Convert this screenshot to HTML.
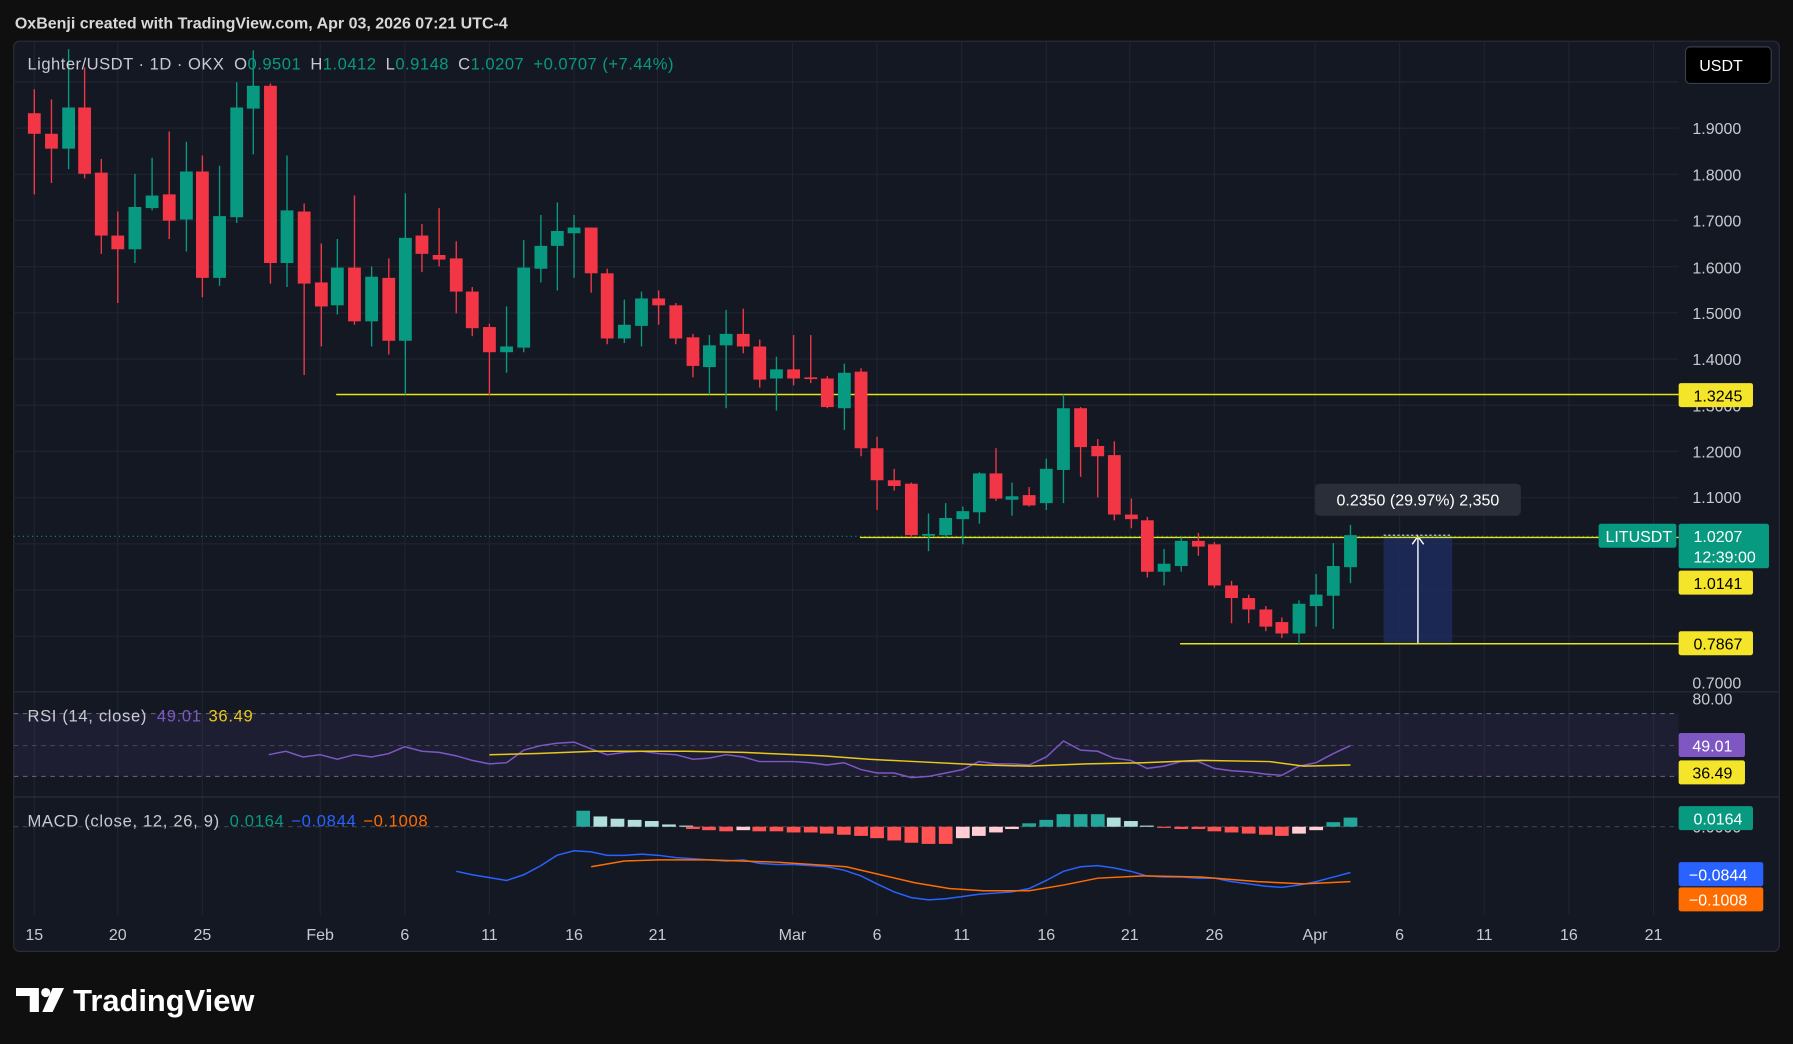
<!DOCTYPE html>
<html><head><meta charset="utf-8"><style>
html,body{margin:0;padding:0;background:#0f0f0f;width:1793px;height:1044px;overflow:hidden}
svg{display:block}
text{font-family:"Liberation Sans",sans-serif}
</style></head><body>
<svg id="s" width="1793" height="1044" viewBox="0 0 1568 913" preserveAspectRatio="none" xmlns="http://www.w3.org/2000/svg">
<rect width="1568" height="913" fill="#0f0f0f"/>
<text x="13" y="25" fill="#d8d8d8" font-size="14" font-weight="bold">OxBenji created with TradingView.com, Apr 03, 2026 07:21 UTC-4</text>
<rect x="12" y="36" width="1544" height="796" rx="5" fill="#141823" stroke="#2a2e39"/>
<g id="grid" stroke="#1f2431" stroke-width="1"></g>
<line x1="12" y1="605" x2="1556" y2="605" stroke="#2a2e39"/>
<line x1="12" y1="697" x2="1556" y2="697" stroke="#2a2e39"/>
<rect x="12" y="624" width="1456" height="55" fill="#7e57c2" opacity="0.1"/>
<line x1="12" y1="624" x2="1468" y2="624" stroke="#5d606b" stroke-dasharray="4,4"/>
<line x1="12" y1="652" x2="1468" y2="652" stroke="#5d606b" stroke-dasharray="4,4" opacity="0.6"/>
<line x1="12" y1="679" x2="1468" y2="679" stroke="#5d606b" stroke-dasharray="4,4"/>
<line x1="12" y1="723" x2="1468" y2="723" stroke="#5d606b" stroke-dasharray="4,4" opacity="0.6"/>
<rect x="1210" y="468" width="60" height="95" fill="#1c2c5c" opacity="0.85"/>
<line x1="1210" y1="468" x2="1270" y2="468" stroke="#ddd" stroke-dasharray="2,2"/>
<line x1="1210" y1="563" x2="1270" y2="563" stroke="#ddd"/>
<line x1="1240" y1="563" x2="1240" y2="470" stroke="#fff" stroke-width="1.2"/>
<path d="M1235 476 L1240 469 L1245 476" stroke="#fff" fill="none" stroke-width="1.2"/>
<rect x="1150" y="423" width="180" height="28" rx="4" fill="#2a2e39"/>
<text x="1240" y="442" fill="#fff" font-size="14" text-anchor="middle">0.2350 (29.97%) 2,350</text>
<line x1="12" y1="469" x2="1468" y2="469" stroke="#089981" stroke-dasharray="1,3"/>
<line x1="294" y1="345" x2="1468" y2="345" stroke="#e8e21b" stroke-width="1.3"/>
<line x1="752" y1="470" x2="1468" y2="470" stroke="#e8e21b" stroke-width="1.3"/>
<line x1="1032" y1="563" x2="1468" y2="563" stroke="#e8e21b" stroke-width="1.3"/>
<g id="candles"></g>
<g id="hist"></g>
<polyline id="rsi" fill="none" stroke="#7e57c2" stroke-width="1.3"/>
<polyline id="rsima" fill="none" stroke="#e8c81b" stroke-width="1.3"/>
<polyline id="macd" fill="none" stroke="#2962ff" stroke-width="1.3"/>
<polyline id="sig" fill="none" stroke="#ff6d00" stroke-width="1.3"/>
<text x="24" y="61" font-size="14.5" fill="#c8cad0" textLength="565" lengthAdjust="spacing">Lighter/USDT · 1D · OKX <tspan dx="4">O</tspan><tspan fill="#089981">0.9501</tspan><tspan dx="8">H</tspan><tspan fill="#089981">1.0412</tspan><tspan dx="8">L</tspan><tspan fill="#089981">0.9148</tspan><tspan dx="8">C</tspan><tspan fill="#089981">1.0207</tspan><tspan dx="8" fill="#089981">+0.0707 (+7.44%)</tspan></text>
<text x="24" y="631" font-size="14.5" fill="#c8cad0" textLength="197" lengthAdjust="spacing">RSI (14, close) <tspan dx="4" fill="#7e57c2">49.01</tspan><tspan dx="6" fill="#e8c81b">36.49</tspan></text>
<text x="24" y="723" font-size="14.5" fill="#c8cad0" textLength="350" lengthAdjust="spacing">MACD (close, 12, 26, 9) <tspan dx="4" fill="#089981">0.0164</tspan><tspan dx="6" fill="#2962ff">−0.0844</tspan><tspan dx="6" fill="#ff6d00">−0.1008</tspan></text>
<g font-size="14" fill="#c8cad0">
<text x="1480" y="117">1.9000</text><text x="1480" y="158">1.8000</text><text x="1480" y="198">1.7000</text>
<text x="1480" y="239">1.6000</text><text x="1480" y="279">1.5000</text><text x="1480" y="319">1.4000</text>
<text x="1480" y="360">1.3000</text><text x="1480" y="400">1.2000</text><text x="1480" y="440">1.1000</text>
<text x="1480" y="517">0.9000</text><text x="1480" y="602">0.7000</text><text x="1480" y="616">80.00</text>
<text x="1480" y="728">0.0000</text>
</g>
<rect x="1474" y="41" width="75" height="32" rx="4" fill="#000" stroke="#3a3e49"/>
<text x="1486" y="62" font-size="14" fill="#fff">USDT</text>
<rect x="1468" y="335" width="65" height="21" rx="2" fill="#f5e52a"/><text x="1481" y="351" font-size="14" fill="#000">1.3245</text>
<rect x="1398" y="458" width="68" height="21" rx="2" fill="#089981"/><text x="1404" y="474" font-size="14" fill="#fff">LITUSDT</text>
<rect x="1468" y="458" width="79" height="39" rx="2" fill="#089981"/><text x="1481" y="474" font-size="14" fill="#fff">1.0207</text><text x="1481" y="492" font-size="14" fill="#fff">12:39:00</text>
<rect x="1468" y="499" width="65" height="21" rx="2" fill="#f5e52a"/><text x="1481" y="515" font-size="14" fill="#000">1.0141</text>
<rect x="1468" y="552" width="65" height="21" rx="2" fill="#f5e52a"/><text x="1481" y="568" font-size="14" fill="#000">0.7867</text>
<rect x="1468" y="641" width="58" height="21" rx="2" fill="#7e57c2"/><text x="1480" y="657" font-size="14" fill="#fff">49.01</text>
<rect x="1468" y="665" width="58" height="21" rx="2" fill="#f5e52a"/><text x="1480" y="681" font-size="14" fill="#000">36.49</text>
<rect x="1468" y="705" width="65" height="21" rx="2" fill="#089981"/><text x="1481" y="721" font-size="14" fill="#fff">0.0164</text>
<rect x="1468" y="754" width="74" height="21" rx="2" fill="#2962ff"/><text x="1477" y="770" font-size="14" fill="#fff">−0.0844</text>
<rect x="1468" y="776" width="74" height="21" rx="2" fill="#ff6d00"/><text x="1477" y="792" font-size="14" fill="#fff">−0.1008</text>
<g font-size="14" fill="#c8cad0" text-anchor="middle">
<text x="30" y="822">15</text><text x="103" y="822">20</text><text x="177" y="822">25</text><text x="280" y="822">Feb</text>
<text x="354" y="822">6</text><text x="428" y="822">11</text><text x="502" y="822">16</text><text x="575" y="822">21</text>
<text x="693" y="822">Mar</text><text x="767" y="822">6</text><text x="841" y="822">11</text><text x="915" y="822">16</text>
<text x="988" y="822">21</text><text x="1062" y="822">26</text><text x="1150" y="822">Apr</text><text x="1224" y="822">6</text>
<text x="1298" y="822">11</text><text x="1372" y="822">16</text><text x="1446" y="822">21</text>
</g>
<path d="M14 864 H34 V885 H26 V871 H14 Z" fill="#fff"/><circle cx="40" cy="868" r="4" fill="#fff"/><path d="M46 864 H56 L46 885 H37 Z" fill="#fff"/>
<text x="64" y="884" font-size="27" font-weight="bold" fill="#fff">TradingView</text>
</svg>
<script>
var NS="http://www.w3.org/2000/svg";
function el(p,t,a){var e=document.createElementNS(NS,t);for(var k in a)e.setAttribute(k,a[k]);document.getElementById(p).appendChild(e);}
var gx=[30,103,177,280,354,428,502,575,693,767,841,915,988,1062,1150,1224,1298,1372,1446];
gx.forEach(function(x){el("grid","line",{x1:x,y1:37,x2:x,y2:800});});
for(var i=0;i<13;i++){var y=71.6+i*40.4;el("grid","line",{x1:12,y1:y,x2:1468,y2:y});}
var C=[[30,78,99,117,170,0],[45,87,117,130,160,0],[60,43,94,130,148,1],[74,59,94,152,156,0],[88.6,139,151,206,222,0],[103,185,206,218,265,0],[118,152,181,218,230,1],[133,138,171,182,184,1],[148,115,170,193,209,0],[163,124,150,192,220,1],[177,136,150,243,260,0],[192,145,189,243,250,1],[207,72,94,190,195,1],[221.5,44,75,95,135,1],[236.5,73,75,230,248,0],[251,136,184,230,251,1],[266,178,185,248,328,0],[281,213,247,268,303,0],[295,209,234,267,275,1],[310,171,234,281,284,0],[325,233,242,281,303,1],[340,226,243,298,310,0],[354.5,169,208,298,345,1],[369,196,206,222,238,0],[384,182,223,227,233,0],[399,211,226,255,274,0],[413,251,255,287,294,0],[428,283,286,308,346,0],[443,268,303,308,326,1],[458,210,234,304,308,1],[473,188,215,235,247,1],[487.4,177,202,215,254,1],[502,188,199,204,243,1],[517,199,199,239,256,0],[531,235,239,296,301,0],[546,262,284,296,300,1],[561,255,261,285,303,1],[576,254,261,267,284,0],[591,265,267,296,301,0],[606,292,295,320,330,0],[620.4,293,302,321,345,1],[635,271,292,302,357,1],[650,270,292,303,309,0],[664.4,297,303,332,339,0],[679,312,323,331,359,1],[694,293,323,331,337,0],[709,293,330,331,335,0],[723.5,329,331,356,357,0],[738.4,318,326,357,376,1],[753,322,325,392,399,0],[767,382,392,420,446,0],[782,410,420,425,429,0],[797,422,423,468,470,0],[812,449,467,468,482,1],[827,440,453,468,470,1],[842,443,447,454,476,1],[856.5,413,414,448,458,1],[871,392,414,436,438,0],[885,422,434,437,451,1],[900,426,433,442,443,0],[915,401,410,440,446,1],[930,345,357,411,440,1],[945,356,357,391,417,0],[960,384,390,399,435,0],[974.5,386,398,450,455,0],[989.4,436,450,454,462,0],[1003.4,452,455,500,505,0],[1018,480,493,500,512,1],[1033,470,473,495,500,1],[1048,466,473,478,486,0],[1062,474,476,512,514,0],[1077,508,512,523,545,0],[1092,520,523,533,545,0],[1107,530,533,548,552,0],[1121,540,544,554,558,0],[1136,525,528,554,563,1],[1151,502,520,530,548,1],[1166,475,495,521,550,1],[1181,459,468,496,510,1]];
C.forEach(function(c){var col=c[5]?"#089981":"#f23645";
el("candles","line",{x1:c[0],y1:c[1],x2:c[0],y2:c[4],stroke:col,"stroke-width":1.2});
el("candles","rect",{x:c[0]-5.6,y:c[2],width:11.2,height:Math.max(1.5,c[3]-c[2]),fill:col});});
document.getElementById("rsi").setAttribute("points","235,660 250,657 265,662 280,660 295,664 310,660 325,662 340,659 354,653 369,657 384,658 399,661 413,665 428,668 443,667 458,656 473,652 487,650 502,649 517,655 531,660 546,658 561,657 576,659 591,660 606,664 620,663 635,660 650,662 664,666 679,666 694,666 709,667 723,669 738,667 753,673 767,676 782,676 797,680 812,679 827,676 842,673 856,666 871,668 885,668 900,669 915,662 930,648 945,656 960,657 974,663 989,665 1003,672 1018,670 1033,666 1048,666 1062,672 1077,674 1092,675 1107,677 1121,678 1136,670 1151,667 1166,659 1181,652");
document.getElementById("rsima").setAttribute("points","428,660 470,659 520,657 600,657 650,658 720,661 760,664 800,666 860,669 900,670 950,668 1000,667 1050,665 1110,666 1140,670 1181,669");
document.getElementById("macd").setAttribute("points","399,762 413,765 443,770 458,765 473,757 487,748 502,744 517,745 531,748 546,748 561,747 576,748 591,750 606,751 620,752 635,753 650,752 664,755 679,756 694,756 709,757 723,758 738,761 753,766 767,773 782,780 797,785 812,787 827,786 842,784 856,782 871,781 885,780 900,777 915,770 930,762 945,758 960,757 974,759 989,762 1003,766 1018,767 1033,767 1048,768 1062,768 1077,771 1092,773 1107,775 1121,776 1136,774 1151,771 1166,767 1181,763");
document.getElementById("sig").setAttribute("points","517,758 546,753 576,752 620,752 680,754 740,758 770,765 800,772 830,777 860,779 900,779 930,774 960,768 1000,766 1050,767 1100,771 1140,773 1181,771");
var H=[[510,709],[525,714],[540,716],[555,717],[570,718],[585,721],[600,722],[606,725],[620,726],[635,727],[650,726],[664,727],[679,727],[694,728],[709,728],[723,729],[738,730],[753,731],[767,733],[782,735],[797,737],[812,738],[827,738],[842,733],[856,731],[871,728],[885,725],[900,720],[915,717],[930,712],[945,712],[960,712],[974,715],[989,718],[1003,722],[1018,724],[1033,725],[1048,725],[1062,727],[1077,728],[1092,729],[1107,730],[1121,731],[1136,729],[1151,726],[1166,719],[1181,715]];
var prev=0;H.forEach(function(h){var v=723-h[1];var col;
if(v>=0)col=(v>=prev)?"#26a69a":"#b2dfdb";else col=(v<=prev)?"#ff5252":"#ffcdd2";prev=v;
el("hist","rect",{x:h[0]-6,y:Math.min(723,h[1]),width:12,height:Math.max(1,Math.abs(v)),fill:col});});
</script>
</body></html>
